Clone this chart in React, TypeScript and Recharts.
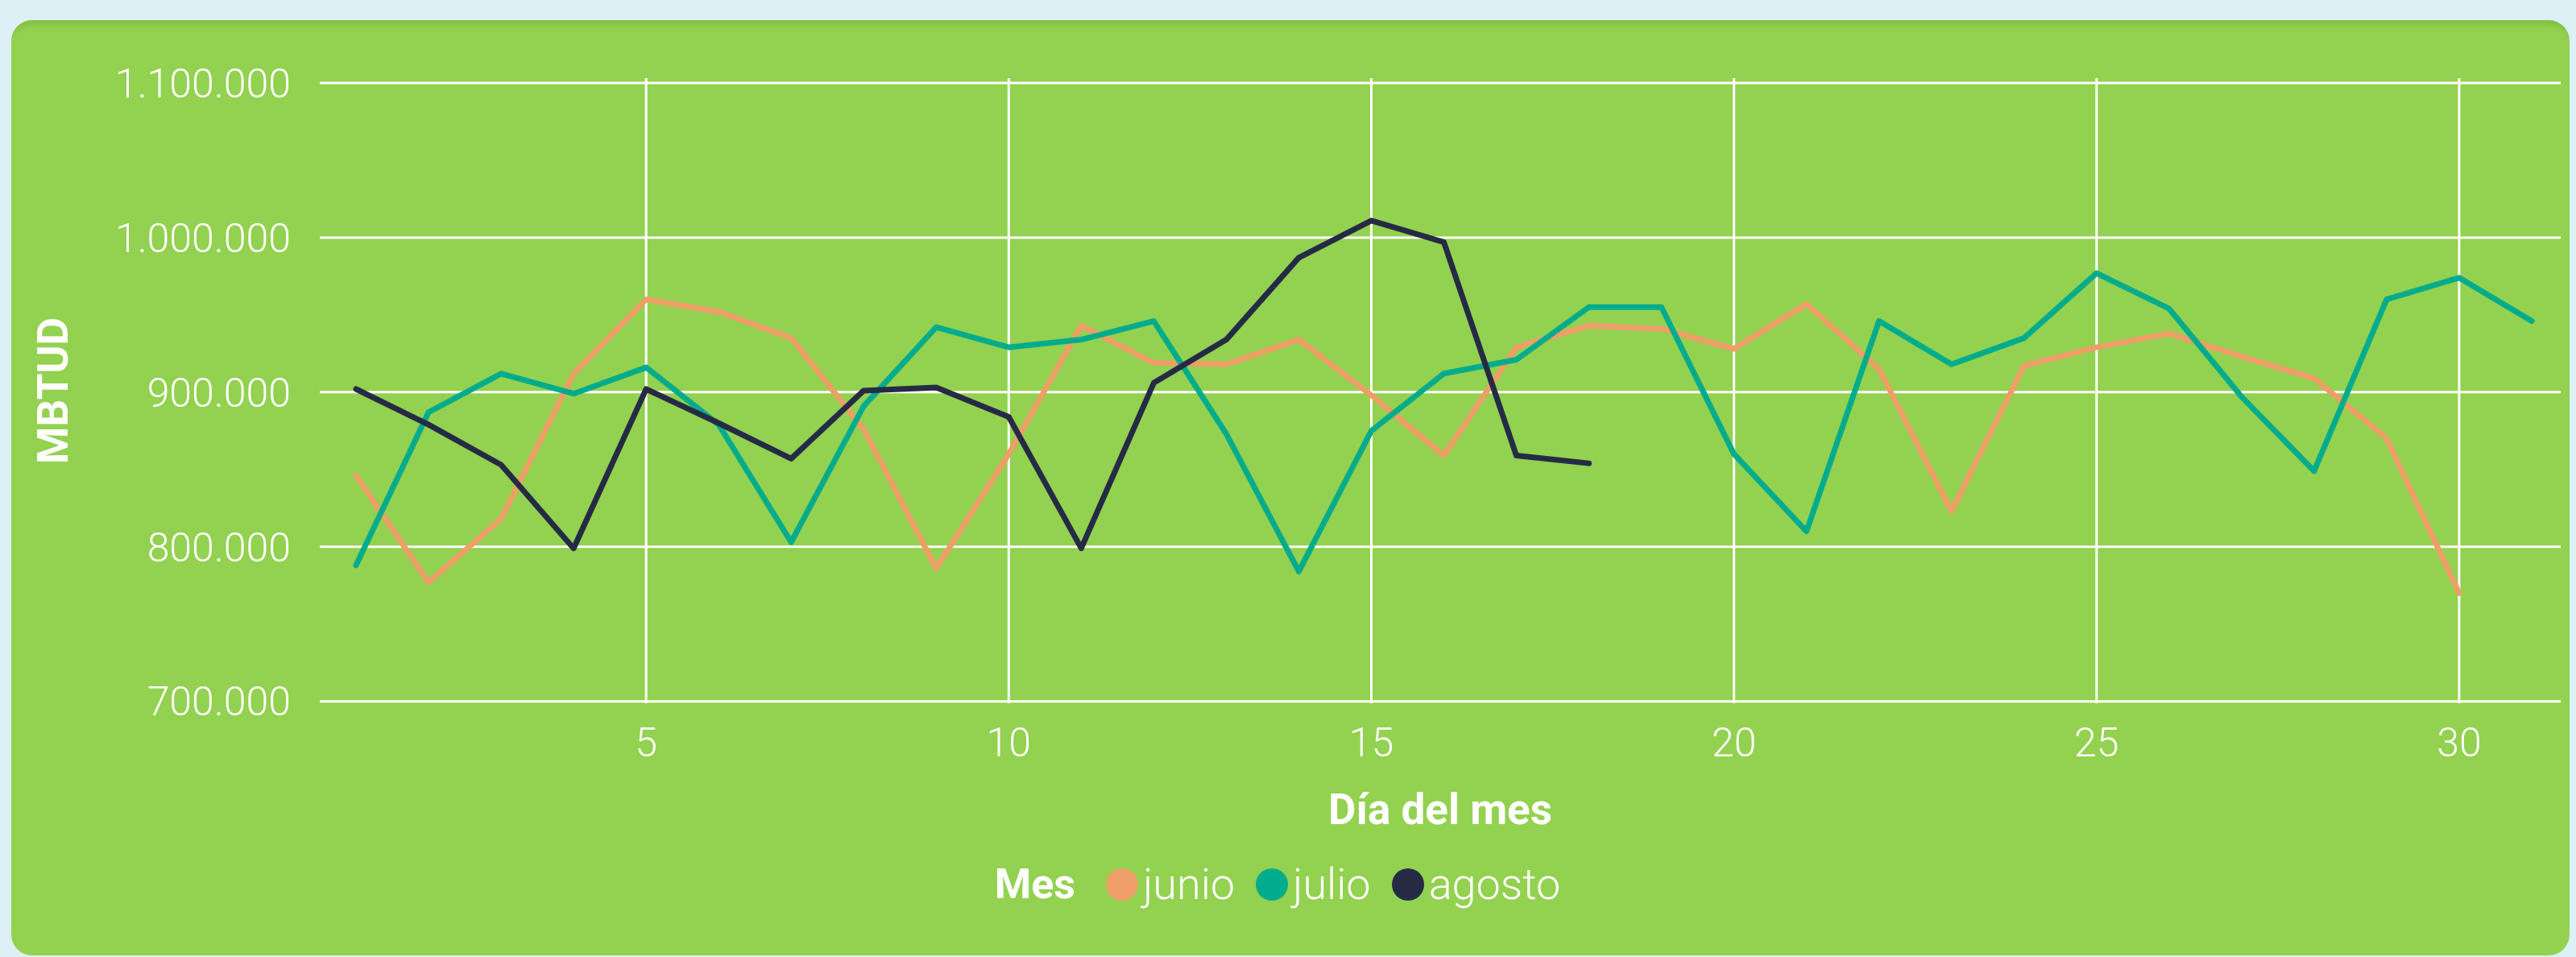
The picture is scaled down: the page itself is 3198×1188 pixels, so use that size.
import React from 'react';
import { LineChart, Line, XAxis, YAxis, CartesianGrid, Legend } from 'recharts';

const DAYS = [1, 2, 3, 4, 5, 6, 7, 8, 9, 10, 11, 12, 13, 14, 15, 16, 17, 18, 19, 20, 21, 22, 23, 24, 25, 26, 27, 28, 29, 30, 31];

const JUNIO = [
  846000, 777000, 818000, 912000, 960000, 952000, 935000, 876000, 786000, 860000,
  943000, 919000, 918000, 934000, 898000, 859000, 929000, 943000, 941000, 928000,
  957000, 915000, 823000, 917000, 929000, 938000, 923000, 909000, 870000, 770000,
];

const JULIO = [
  788000, 887000, 912000, 899000, 916000, 879000, 803000, 891000, 942000, 929000,
  934000, 946000, 873000, 784000, 875000, 912000, 921000, 955000, 955000, 860000,
  810000, 946000, 918000, 935000, 977000, 954000, 897000, 849000, 960000, 974000, 946000,
];

const AGOSTO = [
  902000, 879000, 853000, 799000, 902000, 880000, 857000, 901000, 903000, 884000,
  799000, 906000, 934000, 987000, 1011000, 997000, 859000, 854000,
];

const X_TICKS = [5, 10, 15, 20, 25, 30];
const Y_TICKS = [700000, 800000, 900000, 1000000, 1100000];

const SERIES = [
  { key: 'junio', color: '#EE9E66' },
  { key: 'julio', color: '#00AC8C' },
  { key: 'agosto', color: '#252B45' },
];

const data = DAYS.map((d, i) => ({
  dia: d,
  junio: JUNIO[i],
  julio: JULIO[i],
  agosto: AGOSTO[i],
}));

const FONT = 'Roboto, "Open Sans", sans-serif';

const fmt = (v: number) => String(v).replace(/\B(?=(\d{3})+(?!\d))/g, '.');

function MesLegend() {
  return (
    <div style={{ display: 'flex', alignItems: 'center', justifyContent: 'center', height: 56, fontFamily: FONT, color: '#fff', fontSize: 54, fontWeight: 300, lineHeight: '56px' }}>
      <span style={{ fontWeight: 700, fontSize: 52, marginRight: 38 }}>Mes</span>
      {SERIES.map((s) => (
        <span key={s.key} style={{ display: 'flex', alignItems: 'center', marginRight: 26 }}>
          <span style={{ width: 40, height: 40, borderRadius: '50%', background: s.color, display: 'inline-block', marginRight: 6 }} />
          <span>{s.key}</span>
        </span>
      ))}
    </div>
  );
}

export default function App() {
  return (
    <div style={{ position: 'absolute', left: 0, top: 0, width: 3198, height: 1188, background: '#DDF0F6', overflow: 'hidden' }}>
      <div style={{ position: 'absolute', left: 14, top: 25, width: 3176, height: 1161, background: '#93D150', borderRadius: 26, boxShadow: 'inset 0 14px 6px -8px rgba(120,180,60,0.6)' }} />
      <div style={{ position: 'absolute', left: 0, top: 0 }}>
        <LineChart width={3198} height={1188} data={data} margin={{ top: 97, right: 19, bottom: 99, left: 0 }}>
          <CartesianGrid stroke="#ffffff" strokeWidth={3} syncWithTicks />
          <XAxis
            dataKey="dia"
            type="number"
            domain={[0.5, 31.4]}
            ticks={X_TICKS}
            axisLine={false}
            tickLine={false}
            tickMargin={24}
            height={160}
            tick={{ fill: '#ffffff', fontSize: 50, fontWeight: 300, fontFamily: FONT }}
            label={{
              content: ({ viewBox }: any) => (
                <text x={viewBox.x + viewBox.width / 2} y={viewBox.y + 150} textAnchor="middle" fill="#ffffff" fontSize={53} fontWeight={700} fontFamily={FONT}>
                  Día del mes
                </text>
              ),
            }}
          />
          <YAxis
            type="number"
            domain={[698800, 1103100]}
            ticks={Y_TICKS}
            allowDataOverflow
            axisLine={false}
            tickLine={false}
            tickMargin={30}
            width={397}
            tickFormatter={fmt}
            tick={{ fill: '#ffffff', fontSize: 50, fontWeight: 300, fontFamily: FONT }}
            label={{
              content: ({ viewBox }: any) => {
                const cy = viewBox.y + viewBox.height / 2;
                return (
                  <text x={84} y={cy} transform={`rotate(-90, 84, ${cy})`} textAnchor="middle" fill="#ffffff" fontSize={53} fontWeight={700} fontFamily={FONT}>
                    MBTUD
                  </text>
                );
              },
            }}
          />
          <Legend verticalAlign="bottom" content={() => <MesLegend />} wrapperStyle={{ left: 0, width: 3198, top: 1070 }} />
          {SERIES.map((s) => (
            <Line
              key={s.key}
              type="linear"
              dataKey={s.key}
              stroke={s.color}
              strokeWidth={7}
              strokeLinecap="round"
              strokeLinejoin="round"
              dot={false}
              activeDot={false}
              isAnimationActive={false}
            />
          ))}
        </LineChart>
      </div>
    </div>
  );
}
